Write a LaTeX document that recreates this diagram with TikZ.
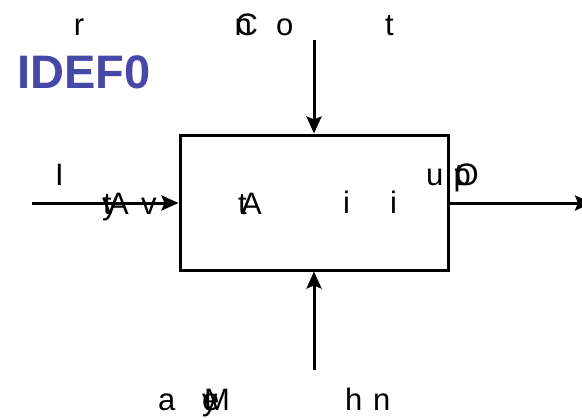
\documentclass[tikz,border=0pt]{standalone}
\usepackage{fontspec}
\setmainfont{Liberation Sans}
\usetikzlibrary{arrows.meta}
\definecolor{idefblue}{RGB}{71,71,168}
\newcommand{\ovl}[2][0pt]{\makebox[0pt][l]{\hspace*{#1}#2}}
\tikzset{
  lbl/.style={anchor=base west, inner sep=0pt, outer sep=0pt, font=\fontsize{31}{36}\selectfont},
  conn/.style={line width=3pt, -{Stealth[length=17pt,width=15pt,inset=3pt]}},
  boxnode/.style={draw, line width=3pt, minimum width=268pt, minimum height=135pt, inner sep=0pt},
}
\begin{document}
\begin{tikzpicture}[x=1pt,y=-1pt]
\useasboundingbox (0,0) rectangle (582,418);
% title
\node[anchor=base west, inner sep=0pt, text=idefblue, font=\fontsize{47}{56}\selectfont\bfseries] (title) at (17,88) {IDEF0};
% box
\node[boxnode] (box) at (314,202.5) {};
% free ends
\coordinate (ctop) at (314,40);
\coordinate (cbot) at (314,370);
\coordinate (cin) at (32,203);
\coordinate (cout) at (592,203);
% connectors
\draw[conn] (ctop) -- (box.north);
\draw[conn] (cbot) -- (box.south);
\draw[conn] (cin) -- (cin -| box.west);
\draw[conn] (cout -| box.east) -- (cout);
% top labels
\node[lbl] (t1) at (74,35) {r};
\node[lbl] (t2) at (234,35) {\ovl{n}\ovl[1pt]{C}};
\node[lbl] (t4) at (276,35) {o};
\node[lbl] (t5) at (385,35) {t};
% left labels
\node[lbl] (l1) at (55,185) {I};
\node[lbl] (l2) at (102,214) {\ovl[1pt]{t}\ovl{y}\hspace*{6pt}A};
\node[lbl] (l5) at (141,214) {v};
% box labels
\node[lbl] (b1) at (238,214) {\ovl{t}\hspace*{3pt}A};
\node[lbl] (b3) at (343,213) {i};
\node[lbl] (b4) at (390,213) {i};
% right labels
\node[lbl] (r1) at (426,185) {u};
\node[lbl] (r2) at (453,185) {\ovl{p}\ovl[1pt]{t}\ovl[1pt]{O}};
% bottom labels
\node[lbl] (m1) at (158,410) {a};
\node[lbl] (m2) at (202,410) {\ovl{y}\ovl{e}\hspace*{2pt}M};
\node[lbl] (m5) at (345,410) {h};
\node[lbl] (m6) at (373,410) {n};
\end{tikzpicture}
\end{document}
